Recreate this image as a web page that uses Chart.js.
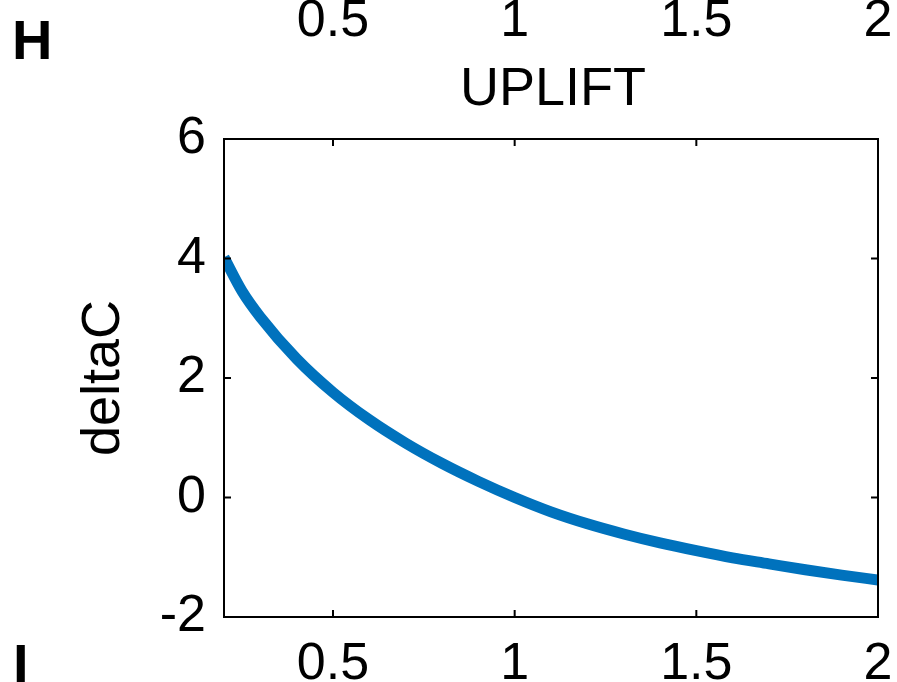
<!DOCTYPE html>
<html>
<head>
<meta charset="utf-8">
<script src="https://cdn.jsdelivr.net/npm/chart.js@4"></script>
<style>
  html, body { margin: 0; padding: 0; background: #fff; overflow: hidden; }
  #wrap { width: 897px; height: 682px; position: relative; }
</style>
</head>
<body>
<div id="wrap"><canvas id="myChart"></canvas></div>
<script>
// UPLIFT 값 (x)
const uplift = [0.2, 0.25, 0.3, 0.4, 0.5, 0.6, 0.7, 0.8, 0.9, 1.0,
                1.1, 1.2, 1.3, 1.4, 1.5, 1.6, 1.7, 1.8, 1.9, 2.0];
// deltaC 값 (y), 그림에서 읽은 값
const deltaC = [4.02, 3.45, 3.02, 2.32, 1.76, 1.30, 0.91, 0.57, 0.27, 0.0,
                -0.24, -0.44, -0.61, -0.76, -0.89, -1.01, -1.11, -1.21, -1.30, -1.38];

// 눈금
const xTicks = [0.5, 1, 1.5, 2];
const yTicks = [-2, 0, 2, 4, 6];
// 위쪽 패널에서 잘려 보이는 눈금 라벨
const topTickLabels = [0.5, 1, 1.5, 2];

const FONT = '"Liberation Sans", Arial, sans-serif';

// 축 박스와 안쪽 눈금, 잘린 텍스트 그리기
const boxPlugin = {
  id: 'box',
  afterDraw(chart) {
    const { ctx, chartArea: a, scales } = chart;
    const xs = scales.x, ys = scales.y;
    ctx.save();
    ctx.strokeStyle = '#000';
    ctx.lineWidth = 2;
    ctx.strokeRect(a.left, a.top, a.right - a.left, a.bottom - a.top);
    const tl = 7;
    ctx.beginPath();
    xTicks.forEach(v => {
      const px = xs.getPixelForValue(v);
      ctx.moveTo(px, a.bottom); ctx.lineTo(px, a.bottom - tl);
      ctx.moveTo(px, a.top); ctx.lineTo(px, a.top + tl);
    });
    yTicks.forEach(v => {
      const py = ys.getPixelForValue(v);
      ctx.moveTo(a.left, py); ctx.lineTo(a.left + tl, py);
      ctx.moveTo(a.right, py); ctx.lineTo(a.right - tl, py);
    });
    ctx.stroke();

    ctx.fillStyle = '#000';
    ctx.textBaseline = 'alphabetic';
    ctx.textAlign = 'center';
    ctx.font = '52px ' + FONT;
    topTickLabels.forEach(v => {
      ctx.fillText(String(v), xs.getPixelForValue(v), 36);
    });
    ctx.font = '54px ' + FONT;
    ctx.fillText('UPLIFT', 553, 105);

    ctx.textAlign = 'left';
    ctx.font = 'bold 56px ' + FONT;
    ctx.fillText('H', 12, 59);
    ctx.fillText('I', 13, 683);
    ctx.restore();
  }
};

const ctx = document.getElementById('myChart').getContext('2d');

const chart = new Chart(ctx, {
  type: 'line',
  data: {
    datasets: [{
      data: uplift.map((x, i) => ({ x: x, y: deltaC[i] })),
      borderColor: '#0072BD',
      borderWidth: 11,
      pointRadius: 0,
      fill: false,
      cubicInterpolationMode: 'monotone',
      clip: 0
    }]
  },
  options: {
    responsive: true,
    maintainAspectRatio: false,
    animation: false,
    events: [],
    layout: { padding: { left: 0, right: 19, top: 139, bottom: 0 } },
    plugins: {
      legend: { display: false },
      tooltip: { enabled: false }
    },
    scales: {
      x: {
        type: 'linear',
        min: 0.2,
        max: 2,
        afterBuildTicks: s => { s.ticks = xTicks.map(v => ({ value: v })); },
        afterFit: s => { s.height = 65; s.paddingLeft = 0; s.paddingRight = 0; },
        grid: { display: false, drawTicks: false },
        border: { display: false },
        ticks: {
          color: '#000',
          padding: 16,
          maxRotation: 0,
          autoSkip: false,
          callback: v => String(v),
          font: { family: FONT, size: 52 }
        }
      },
      y: {
        min: -2,
        max: 6,
        afterBuildTicks: s => { s.ticks = yTicks.map(v => ({ value: v })); },
        afterFit: s => { s.width = 224; s.paddingTop = 0; s.paddingBottom = 0; },
        grid: { display: false, drawTicks: false },
        border: { display: false },
        ticks: {
          color: '#000',
          padding: 18,
          callback: v => String(v),
          font: { family: FONT, size: 52 }
        },
        title: {
          display: true,
          text: 'deltaC',
          color: '#000',
          padding: { top: 72, bottom: 0 },
          font: { family: FONT, size: 54 }
        }
      }
    }
  },
  plugins: [boxPlugin]
});
</script>
</body>
</html>
